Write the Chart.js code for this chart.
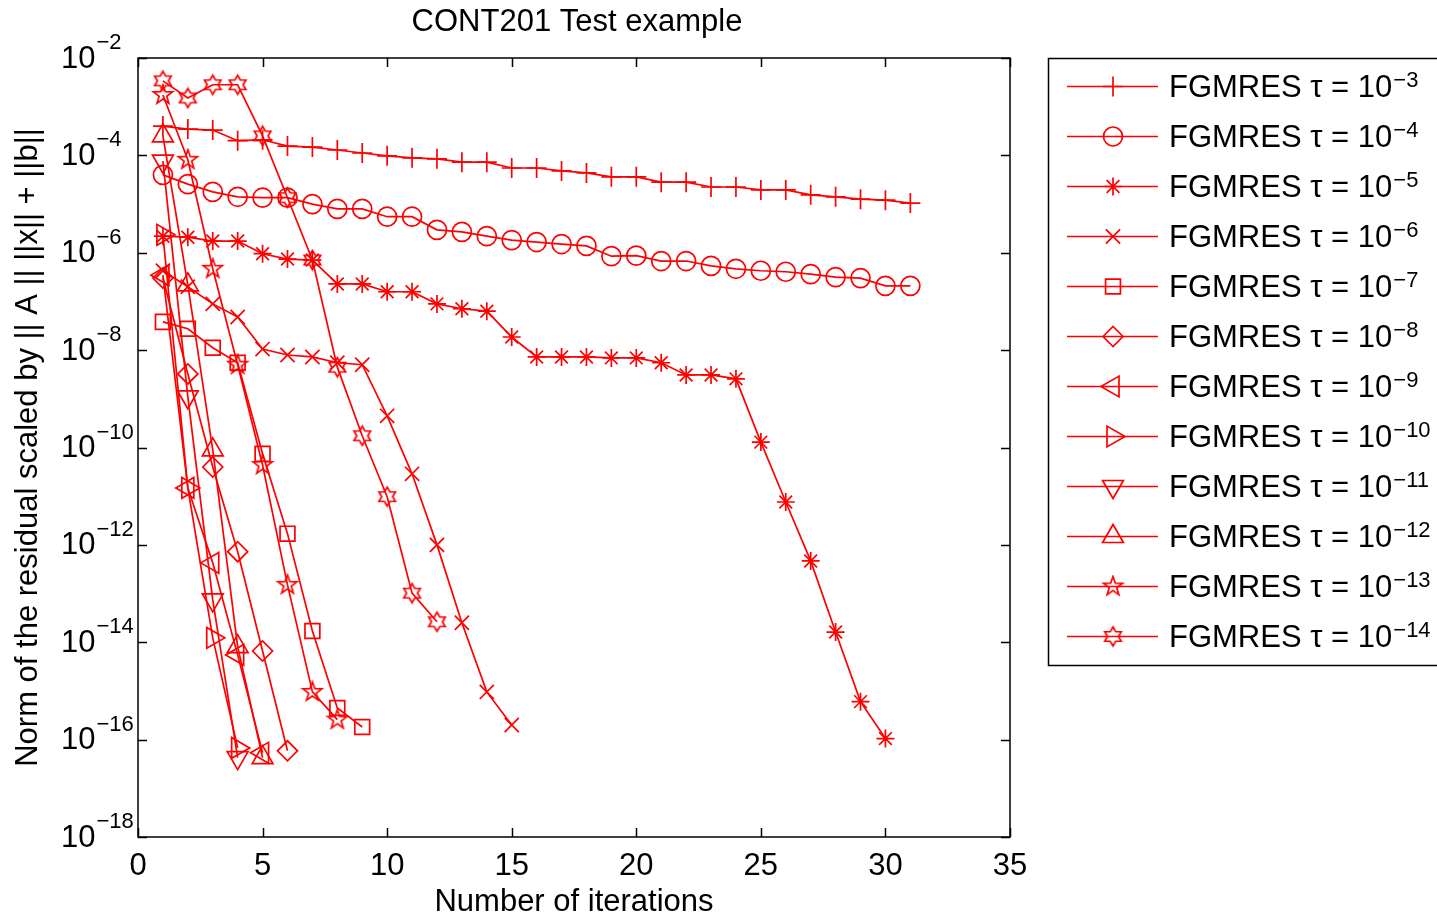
<!DOCTYPE html>
<html>
<head>
<meta charset="utf-8">
<script src="https://cdn.jsdelivr.net/npm/chart.js@4.4.1/dist/chart.umd.min.js"></script>
<style>
  html, body { margin: 0; padding: 0; background: #fff; overflow: hidden; }
</style>
</head>
<body>
<canvas id="c" width="1437" height="919"></canvas>
<script>
/* residual norms, one array per tolerance, iteration 1..n */
const tau3  = [4.0e-4, 3.47e-4, 3.31e-4, 2.0e-4, 2.09e-4, 1.55e-4, 1.48e-4, 1.29e-4, 1.12e-4, 9.77e-5,
               8.91e-5, 8.51e-5, 7.24e-5, 7.24e-5, 5.50e-5, 5.50e-5, 4.79e-5, 4.37e-5, 3.63e-5, 3.63e-5,
               2.82e-5, 2.82e-5, 2.24e-5, 2.24e-5, 1.95e-5, 1.95e-5, 1.55e-5, 1.41e-5, 1.26e-5, 1.20e-5, 1.05e-5];
const tau4  = [3.98e-5, 2.57e-5, 1.78e-5, 1.41e-5, 1.35e-5, 1.35e-5, 1.0e-5, 7.94e-6, 7.94e-6, 5.50e-6,
               5.50e-6, 2.95e-6, 2.69e-6, 2.19e-6, 1.82e-6, 1.66e-6, 1.51e-6, 1.38e-6, 8.51e-7, 8.71e-7,
               6.76e-7, 6.76e-7, 5.37e-7, 4.68e-7, 4.27e-7, 4.07e-7, 3.63e-7, 3.16e-7, 3.02e-7, 2.09e-7, 2.09e-7];
const tau5  = [2.19e-6, 2.09e-6, 1.74e-6, 1.74e-6, 9.55e-7, 7.41e-7, 7.08e-7, 2.29e-7, 2.29e-7, 1.58e-7,
               1.58e-7, 8.91e-8, 7.08e-8, 6.31e-8, 1.86e-8, 7.24e-9, 7.24e-9, 7.24e-9, 6.92e-9, 6.92e-9,
               5.50e-9, 3.09e-9, 3.09e-9, 2.57e-9, 1.29e-10, 7.59e-12, 4.68e-13, 1.62e-14, 6.03e-16, 1.05e-16];
const tau6  = [4.27e-7, 2.0e-7, 8.91e-8, 4.79e-8, 1.05e-8, 7.94e-9, 7.24e-9, 5.50e-9, 5.01e-9, 4.47e-10,
               2.88e-11, 1.0e-12, 2.51e-14, 9.55e-16, 2.0e-16];
const tau7  = [3.80e-8, 2.75e-8, 1.12e-8, 5.50e-9, 7.41e-11, 1.70e-12, 1.70e-14, 4.47e-16, 1.82e-16];
const tau8  = [3.02e-7, 3.24e-9, 3.98e-11, 7.24e-13, 6.61e-15, 5.89e-17];
const tau9  = [3.47e-7, 1.48e-11, 4.27e-13, 5.50e-15, 5.37e-17];
const tau10 = [2.34e-6, 1.48e-11, 1.23e-14, 6.76e-17];
const tau11 = [7.59e-5, 1.10e-9, 7.41e-14, 4.27e-17];
const tau12 = [2.51e-4, 2.19e-7, 8.91e-11, 8.13e-15, 4.27e-17];
const tau13 = [1.74e-3, 8.13e-5, 4.68e-7, 5.01e-9, 4.37e-11, 1.51e-13, 9.55e-16, 2.57e-16];
const tau14 = [3.39e-3, 1.51e-3, 2.82e-3, 2.82e-3, 2.51e-4, 1.35e-5, 7.08e-7, 4.47e-9, 1.74e-10, 9.77e-12,
               1.02e-13, 2.63e-14];

const tauExponents = [3, 4, 5, 6, 7, 8, 9, 10, 11, 12, 13, 14];
const xTicks = [0, 5, 10, 15, 20, 25, 30, 35];
const yTickExponents = [-2, -4, -6, -8, -10, -12, -14, -16, -18];

const RED = '#ff0000';
const FONT = '"Liberation Sans", Arial, Helvetica, sans-serif';
const LW = 1.7;

// outlined star markers (MATLAB pentagram / hexagram)
function starMarker(points, rOut, rIn) {
  const s = Math.ceil(2 * rOut + 4);
  const cv = document.createElement('canvas');
  cv.width = s; cv.height = s;
  const g = cv.getContext('2d');
  g.strokeStyle = RED;
  g.lineWidth = LW;
  g.beginPath();
  for (let i = 0; i < points * 2; i++) {
    const r = i % 2 ? rIn : rOut;
    const a = -Math.PI / 2 + i * Math.PI / points;
    const px = s / 2 + r * Math.cos(a), py = s / 2 + r * Math.sin(a);
    i ? g.lineTo(px, py) : g.moveTo(px, py);
  }
  g.closePath();
  g.stroke();
  return cv;
}
const pentagram = starMarker(5, 10, 4);
const hexagram = starMarker(6, 9.5, 5.5);

const markers = [
  { style: 'cross',    radius: 10,  rotation: 0 },
  { style: 'circle',   radius: 9.5, rotation: 0 },
  { style: 'star',     radius: 9,   rotation: 0 },
  { style: 'crossRot', radius: 10,  rotation: 0 },
  { style: 'rect',     radius: 10.5,rotation: 0 },
  { style: 'rectRot',  radius: 10,  rotation: 0 },
  { style: 'triangle', radius: 12,  rotation: -90 },
  { style: 'triangle', radius: 12,  rotation: 90 },
  { style: 'triangle', radius: 12,  rotation: 180 },
  { style: 'triangle', radius: 12,  rotation: 0 },
  { style: pentagram,  radius: 10,  rotation: 0 },
  { style: hexagram,   radius: 10,  rotation: 0 }
];

const series = [tau3, tau4, tau5, tau6, tau7, tau8, tau9, tau10, tau11, tau12, tau13, tau14];

const datasets = series.map((vals, k) => ({
  label: 'FGMRES \u03c4 = 10^-' + tauExponents[k],
  data: vals.map((v, i) => ({ x: i + 1, y: v })),
  borderColor: RED,
  borderWidth: LW,
  backgroundColor: 'rgba(0,0,0,0)',
  pointStyle: markers[k].style,
  pointRadius: markers[k].radius,
  pointRotation: markers[k].rotation,
  pointBorderColor: RED,
  pointBackgroundColor: 'rgba(0,0,0,0)',
  pointBorderWidth: LW,
  tension: 0
}));

// axes box, inward ticks, labels, legend -- drawn MATLAB-style
const matlabFrame = {
  id: 'matlabFrame',
  afterDraw(chart) {
    const { ctx, chartArea: a, scales } = chart;
    const xs = scales.x, ys = scales.y;
    ctx.save();
    ctx.strokeStyle = '#000';
    ctx.lineWidth = 1.5;
    ctx.strokeRect(a.left, a.top, a.right - a.left, a.bottom - a.top);

    const tl = 9;
    ctx.beginPath();
    xTicks.forEach(t => {
      const px = Math.round(xs.getPixelForValue(t)) + 0.5;
      ctx.moveTo(px, a.bottom); ctx.lineTo(px, a.bottom - tl);
      ctx.moveTo(px, a.top); ctx.lineTo(px, a.top + tl);
    });
    yTickExponents.forEach(e => {
      const py = Math.round(ys.getPixelForValue(Math.pow(10, e))) + 0.5;
      ctx.moveTo(a.left, py); ctx.lineTo(a.left + tl, py);
      ctx.moveTo(a.right, py); ctx.lineTo(a.right - tl, py);
    });
    ctx.stroke();

    ctx.fillStyle = '#000';
    ctx.font = '31px ' + FONT;
    ctx.textAlign = 'center';
    ctx.textBaseline = 'middle';
    xTicks.forEach(t => ctx.fillText(String(t), xs.getPixelForValue(t), a.bottom + 29));

    yTickExponents.forEach(e => {
      const py = ys.getPixelForValue(Math.pow(10, e));
      ctx.font = '31px ' + FONT;
      ctx.textAlign = 'left';
      ctx.fillText('10', 61, py + 1);
      const w = ctx.measureText('10').width;
      ctx.font = '22px ' + FONT;
      ctx.fillText('\u2212' + Math.abs(e), 61 + w + 1, py - 15);
    });

    ctx.font = '31px ' + FONT;
    ctx.textAlign = 'center';
    ctx.fillText('CONT201 Test example', (a.left + a.right) / 2 + 3, 22);
    ctx.fillText('Number of iterations', (a.left + a.right) / 2, 902);

    ctx.save();
    ctx.translate(28, (a.top + a.bottom) / 2);
    ctx.rotate(-Math.PI / 2);
    ctx.fillText('Norm of the residual scaled by || A || ||x|| + ||b||', 0, 0);
    ctx.restore();

    // legend
    ctx.strokeStyle = '#000';
    ctx.lineWidth = 1.5;
    ctx.strokeRect(1048.5, 58.5, 400, 607);
    datasets.forEach((ds, k) => {
      const ly = 86 + k * 50;
      ctx.strokeStyle = RED;
      ctx.lineWidth = LW;
      ctx.beginPath();
      ctx.moveTo(1067, ly + 0.5); ctx.lineTo(1158, ly + 0.5);
      ctx.stroke();
      ctx.fillStyle = 'rgba(0,0,0,0)';
      Chart.helpers.drawPoint(ctx, {
        pointStyle: markers[k].style, radius: markers[k].radius,
        rotation: markers[k].rotation, borderWidth: LW
      }, 1113, ly + 0.5);

      ctx.fillStyle = '#000';
      ctx.textAlign = 'left';
      ctx.textBaseline = 'alphabetic';
      ctx.font = '31px ' + FONT;
      const main = 'FGMRES \u03c4 = 10';
      ctx.fillText(main, 1169, ly + 11);
      const w = ctx.measureText(main).width;
      ctx.font = '22px ' + FONT;
      ctx.fillText('\u2212' + tauExponents[k], 1169 + w + 1, ly + 1);
    });
    ctx.restore();
  }
};

new Chart(document.getElementById('c'), {
  type: 'line',
  data: { datasets },
  options: {
    responsive: false,
    animation: false,
    devicePixelRatio: 1,
    layout: { padding: { left: 138, right: 427, top: 58, bottom: 82 } },
    plugins: { legend: { display: false }, title: { display: false }, tooltip: { enabled: false } },
    scales: {
      x: { type: 'linear', min: 0, max: 35, display: false },
      y: { type: 'logarithmic', min: 1e-18, max: 1e-2, display: false }
    }
  },
  plugins: [matlabFrame]
});
</script>
</body>
</html>
